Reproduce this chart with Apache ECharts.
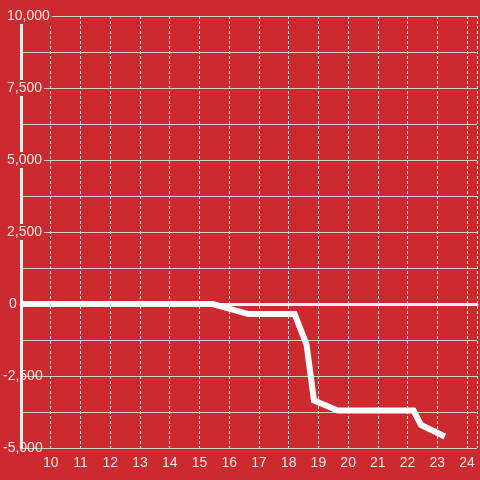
<!DOCTYPE html>
<html>
<head>
<meta charset="utf-8">
<script src="https://cdn.jsdelivr.net/npm/echarts@6/dist/echarts.min.js"></script>
<style>
  html, body { margin: 0; padding: 0; background: #cc2a2e; }
  #main { width: 480px; height: 480px; }
</style>
</head>
<body>
<div id="main"></div>
<script>
var bg = '#cc2a2e';
var textColor = '#f2e6e6';

// x = hour, y = value
var hours  = [9, 15.45, 16.65, 18.2, 18.6, 18.85, 19.65, 22.2, 22.45, 23.25];
var values = [0, 0, -350, -350, -1400, -3350, -3700, -3700, -4200, -4600];

var points = hours.map(function (h, i) { return [h, values[i]]; });

var xMin = 9, xMax = 24 + 1 / 3;

var myChart = echarts.init(document.getElementById('main'));

var option = {
    backgroundColor: bg,
    animation: false,
    grid: { left: 20, right: 0, top: 16, bottom: 32 },
    xAxis: [
        {
            // labels at the bottom
            type: 'value',
            min: xMin,
            max: xMax,
            interval: 1,
            axisLine: { show: false, onZero: false },
            axisTick: { show: false },
            axisLabel: {
                showMinLabel: false,
                color: textColor,
                fontFamily: 'Liberation Sans',
                fontSize: 14,
                margin: 8,
                formatter: function (v) {
                    return Math.abs(v - Math.round(v)) < 1e-6 ? String(Math.round(v)) : '';
                }
            },
            splitLine: {
                show: true,
                lineStyle: { color: '#e8e8e8', width: 1, type: [3, 2] }
            }
        },
        {
            // white zero line
            type: 'value',
            min: xMin,
            max: xMax,
            interval: 1,
            axisLine: { show: true, onZero: true, lineStyle: { color: '#f2f2f2', width: 3 } },
            axisTick: { show: false },
            axisLabel: { show: false },
            splitLine: { show: false }
        }
    ],
    yAxis: {
        type: 'value',
        min: -5000,
        max: 10000,
        interval: 2500,
        axisLine: { show: true, lineStyle: { color: '#f2f2f2', width: 3 } },
        axisTick: { show: false },
        axisLabel: {
            align: 'left',
            margin: 18,
            color: textColor,
            fontFamily: 'Liberation Sans',
            fontSize: 14,
            formatter: function (v) {
                var s = Math.abs(v).toLocaleString('en-US');
                if (v > 0) return '{p|' + s + '}';
                if (v < 0) return '{n|-' + s + '}';
                return '{z|0}';
            },
            rich: {
                p: { padding: [1, 2, 1, 4], backgroundColor: bg, lineHeight: 17, fontSize: 14, color: textColor, fontFamily: 'Liberation Sans' },
                n: { lineHeight: 17, fontSize: 14, color: textColor, fontFamily: 'Liberation Sans' },
                z: { padding: [0, 0, 0, 6], lineHeight: 17, fontSize: 14, color: textColor, fontFamily: 'Liberation Sans' }
            }
        },
        splitLine: { show: true, lineStyle: { color: '#cfcfcf', width: 1 } },
        minorTick: { show: false, splitNumber: 2 },
        minorSplitLine: { show: true, lineStyle: { color: '#cfcfcf', width: 1 } }
    },
    series: [
        {
            type: 'line',
            data: points,
            symbol: 'none',
            lineStyle: { color: '#ffffff', width: 6, join: 'miter', cap: 'butt' }
        }
    ]
};

myChart.setOption(option);
</script>
</body>
</html>
